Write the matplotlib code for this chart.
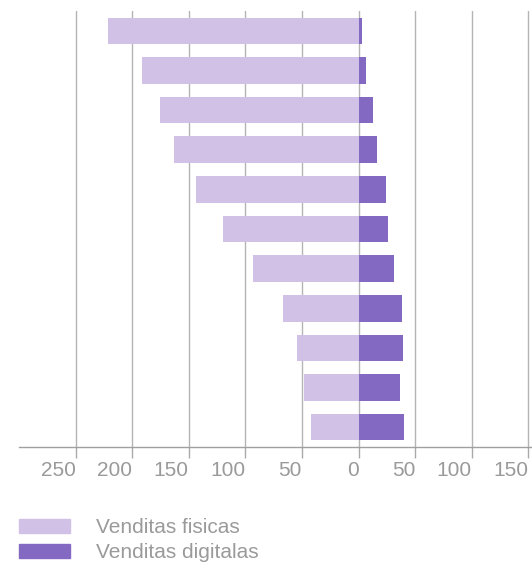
import numpy as np
from matplotlib import pyplot as plt
from matplotlib.patches import Patch

plt.rcParams['font.family'] = ['Liberation Sans', 'DejaVu Sans']

# data, top bar first
fisicas = [221, 191, 175, 163, 144, 120, 93, 67, 54, 48, 42]
digitalas = [3, 7, 13, 16, 24, 26, 31, 38, 39, 37, 40]
tick_vals = [-250, -200, -150, -100, -50, 0, 50, 100, 150]
tick_labels = [str(abs(v)) for v in tick_vals]

light = '#d1c1e6'
dark = '#8369c2'
grey = '#9a9a9a'

fig = plt.figure(figsize=(5.32, 5.63), dpi=100)
ax = fig.add_axes([19 / 532, 116 / 563, 513 / 532, 436 / 563])

y = np.arange(len(fisicas))[::-1]
ax.barh(y, -np.array(fisicas), height=0.67, color=light, zorder=2)
ax.barh(y, digitalas, height=0.67, color=dark, zorder=2)

ax.set_xlim(-300, 153.3)
ax.set_ylim(-0.5, len(fisicas) - 0.5)
ax.set_yticks([])
ax.set_xticks(tick_vals)
ax.set_xticklabels(tick_labels, ha='right')
ax.tick_params(axis='x', length=8, width=1, color='#aaaaaa', labelcolor=grey,
               labelsize=15, pad=2)
ax.grid(axis='x', color='#b4b4b4', linewidth=1, zorder=0)
for s in ['top', 'right', 'left']:
    ax.spines[s].set_visible(False)
ax.spines['bottom'].set_color('#a0a0a0')
ax.spines['bottom'].set_linewidth(1)

handles = [Patch(color=light, label='Venditas fisicas'),
           Patch(color=dark, label='Venditas digitalas')]
leg = fig.legend(handles=handles, loc='upper left', bbox_to_anchor=(19 / 532, 1 - 518 / 563),
                 frameon=False, fontsize=15, handlelength=2.45, handleheight=0.68,
                 handletextpad=1.25, labelspacing=0.3, borderaxespad=0, borderpad=0)
for t in leg.get_texts():
    t.set_color(grey)

plt.savefig('out.png', dpi=100)
